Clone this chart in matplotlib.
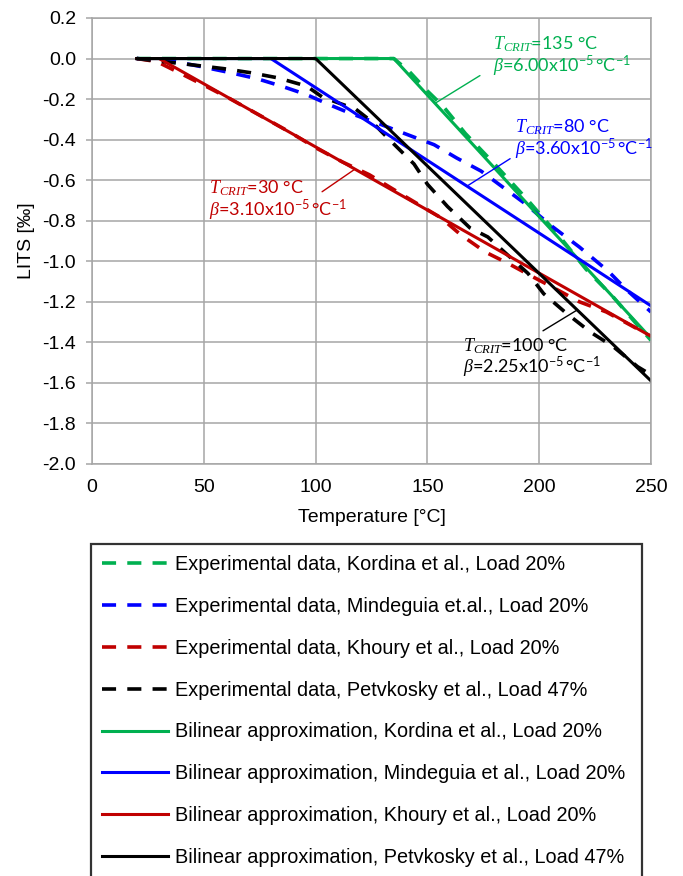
import numpy as np
import matplotlib
matplotlib.use("Agg")
import matplotlib.pyplot as plt
from matplotlib.ticker import MultipleLocator, FormatStrFormatter

# experimental LITS curves (temperature in degC, strain in per mille)
kordina_T = [20, 135, 142, 150, 157, 167, 180, 195, 210, 221, 233, 242, 250]
kordina_L = [0, 0, -0.065, -0.16, -0.235, -0.37, -0.52, -0.70, -0.89, -1.04, -1.175, -1.29, -1.39]

mindeguia_T = [20, 36, 48, 62, 74, 85, 96, 106, 115, 128, 141, 153, 163, 174, 193, 206, 218, 231, 239, 250]
mindeguia_L = [0, -0.013, -0.038, -0.07, -0.10, -0.137, -0.178, -0.227, -0.268, -0.32, -0.375, -0.425,
               -0.49, -0.555, -0.71, -0.83, -0.93, -1.05, -1.14, -1.25]

khoury_T = [20, 29, 39, 51, 62, 75, 88, 100, 112, 124, 140, 156, 165, 176, 186, 196, 208, 218, 230, 240, 250]
khoury_L = [0, -0.015, -0.07, -0.137, -0.2, -0.28, -0.36, -0.44, -0.51, -0.573, -0.68, -0.785, -0.87,
            -0.955, -1.01, -1.07, -1.14, -1.2, -1.25, -1.31, -1.37]

petvkosky_T = [20, 44, 59, 71, 83, 96, 103, 118, 125, 133, 144, 150, 159, 169, 177, 186, 195, 202, 212,
               223, 233, 244, 250]
petvkosky_L = [0, -0.03, -0.05, -0.07, -0.095, -0.136, -0.19, -0.25, -0.31, -0.40, -0.52, -0.62, -0.73,
               -0.835, -0.88, -0.97, -1.06, -1.16, -1.255, -1.35, -1.42, -1.52, -1.56]

# bilinear fits: flat up to T_crit, then linear
bil_kordina_T = [20, 135, 250]
bil_kordina_L = [0, 0, -1.38]
bil_mindeguia_T = [20, 80, 250]
bil_mindeguia_L = [0, 0, -1.22]
bil_khoury_T = [20, 30, 250]
bil_khoury_L = [0, 0, -1.37]
bil_petvkosky_T = [20, 100, 250]
bil_petvkosky_L = [0, 0, -1.59]

GREEN = "#00B050"
BLUE = "#0000FF"
RED = "#C00000"
BLACK = "#000000"
GRID = "#A6A6A6"

plt.rcParams["font.family"] = ["Liberation Sans", "DejaVu Sans"]
plt.rcParams["axes.unicode_minus"] = False
plt.rcParams["mathtext.fontset"] = "custom"
plt.rcParams["mathtext.it"] = "Liberation Serif:italic"
plt.rcParams["mathtext.rm"] = "Liberation Serif"
plt.rcParams["mathtext.sf"] = "Lato"

fig = plt.figure(figsize=(6.83, 8.76), dpi=100)
ax = fig.add_axes([92 / 683, 1 - 464 / 876, (651 - 92) / 683, (464 - 18) / 876])

dash = (3.9, 3.1)
ax.plot(kordina_T, kordina_L, color=GREEN, lw=2.6, dashes=dash,
        label="Experimental data, Kordina et al., Load 20%")
ax.plot(mindeguia_T, mindeguia_L, color=BLUE, lw=2.6, dashes=dash,
        label="Experimental data, Mindeguia et.al., Load 20%")
ax.plot(khoury_T, khoury_L, color=RED, lw=2.6, dashes=dash,
        label="Experimental data, Khoury et al., Load 20%")
ax.plot(petvkosky_T, petvkosky_L, color=BLACK, lw=2.6, dashes=dash,
        label="Experimental data, Petvkosky et al., Load 47%")
ax.plot(bil_kordina_T, bil_kordina_L, color=GREEN, lw=2.2,
        label="Bilinear approximation, Kordina et al., Load 20%")
ax.plot(bil_mindeguia_T, bil_mindeguia_L, color=BLUE, lw=2.2,
        label="Bilinear approximation, Mindeguia et al., Load 20%")
ax.plot(bil_khoury_T, bil_khoury_L, color=RED, lw=2.2,
        label="Bilinear approximation, Khoury et al., Load 20%")
ax.plot(bil_petvkosky_T, bil_petvkosky_L, color=BLACK, lw=2.2,
        label="Bilinear approximation, Petvkosky et al., Load 47%")

ax.set_xlim(0, 250)
ax.set_ylim(-2.0, 0.2)
ax.xaxis.set_major_locator(MultipleLocator(50))
ax.yaxis.set_major_locator(MultipleLocator(0.2))
ax.yaxis.set_major_formatter(FormatStrFormatter("%.1f"))
ax.grid(True, color=GRID, lw=1.1)
ax.set_axisbelow(True)
for s in ax.spines.values():
    s.set_color(GRID)
    s.set_linewidth(1.1)
ax.tick_params(axis="y", direction="out", length=4.5, width=1.1, color=GRID, pad=7, labelsize=14)
ax.tick_params(axis="x", length=0, pad=11, labelsize=14)
ax.set_xlabel("Temperature [°C]", fontsize=14, labelpad=9)
ax.set_ylabel("LITS [‰]", fontsize=14, labelpad=5)

# T_crit / beta labels with leader lines to the bilinear curves
notes = [
    (bil_kordina_T, bil_kordina_L, GREEN, "135", "6.00", (179.5, 0.07), (173.5, -0.084), 153.4),
    (bil_mindeguia_T, bil_mindeguia_L, BLUE, "80", "3.60", (189.0, -0.34), (187.0, -0.494), 167.7),
    (bil_khoury_T, bil_khoury_L, RED, "30", "3.10", (52.5, -0.64), (102.9, -0.657), 117.6),
    (bil_petvkosky_T, bil_petvkosky_L, BLACK, "100", "2.25", (166.0, -1.417), (201.7, -1.343), 217.0),
]
for xs, ys, col, tc, beta, tpos, lstart, lend in notes:
    ax.text(tpos[0], tpos[1], r"$T_{CRIT}$=" + tc + " °C", color=col, fontsize=13,
            family="Lato", va="center", ha="left")
    ax.text(tpos[0], tpos[1] - 0.108, r"$\beta$=" + beta + r"x10$^{\mathsf{-5}}\,$°C$^{\mathsf{-1}}$",
            color=col, fontsize=13, family="Lato", va="center", ha="left")
    ax.annotate("", xy=(lend, np.interp(lend, xs, ys)), xytext=lstart,
                arrowprops=dict(arrowstyle="-", color=col, lw=1.0, shrinkA=0, shrinkB=0))

leg = fig.legend(loc="upper left", bbox_to_anchor=(91 / 683, 0, (642 - 91) / 683, 1 - 544 / 876),
                 mode="expand", borderaxespad=0, fontsize=14.3, frameon=True, fancybox=False,
                 edgecolor="black", handlelength=3.3, handletextpad=0.36, labelspacing=1.15,
                 borderpad=0.56)
leg.get_frame().set_linewidth(1.6)

fig.savefig("out.png", dpi=100)
